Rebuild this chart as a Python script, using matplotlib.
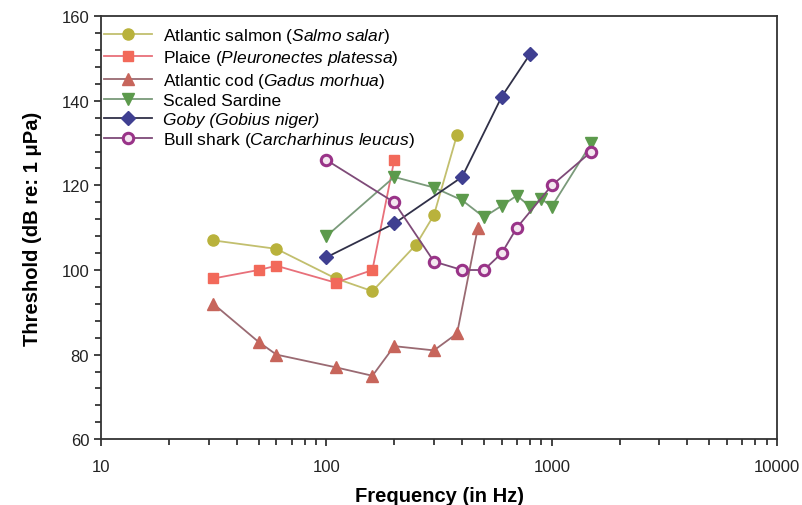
import numpy as np
import matplotlib
matplotlib.use('Agg')
import matplotlib.pyplot as plt
from matplotlib.ticker import FixedLocator, MultipleLocator, NullFormatter, FuncFormatter

plt.rcParams['font.family'] = ['Liberation Sans', 'DejaVu Sans']
plt.rcParams['mathtext.fontset'] = 'custom'
plt.rcParams['mathtext.rm'] = 'Liberation Sans'
plt.rcParams['mathtext.it'] = 'Liberation Sans:italic'

# data
salmon_f = [31.5, 60, 110, 160, 250, 300, 380]
salmon_db = [107, 105, 98, 95, 106, 113, 132]

plaice_f = [31.5, 50, 60, 110, 160, 200]
plaice_db = [98, 100, 101, 97, 100, 126]

cod_f = [31.5, 50, 60, 110, 160, 200, 300, 380, 470]
cod_db = [92, 83, 80, 77, 75, 82, 81, 85, 110]

sardine_f = [100, 200, 300, 400, 500, 600, 700, 800, 900, 1000, 1500]
sardine_db = [108, 122, 119.5, 116.5, 112.5, 115.2, 117.6, 115, 116.8, 115, 130]

goby_f = [100, 200, 400, 600, 800]
goby_db = [103, 111, 122, 141, 151]

shark_f = [100, 200, 300, 400, 500, 600, 700, 1000, 1500]
shark_db = [126, 116, 102, 100, 100, 104, 110, 120, 128]

labels = [r'Atlantic salmon ($\it{Salmo\ salar}$)',
          r'Plaice ($\it{Pleuronectes\ platessa}$)',
          r'Atlantic cod ($\it{Gadus\ morhua}$)',
          'Scaled Sardine',
          'Goby (Gobius niger)',
          r'Bull shark ($\it{Carcharhinus\ leucus}$)']

fig = plt.figure(figsize=(8.02, 5.06), dpi=100)
ax = fig.add_axes([0.126, 0.130, 0.843, 0.836])

ax.plot(salmon_f, salmon_db, color='#c2bf6e', lw=1.3, marker='o', ms=8,
        mfc='#b9b23c', mec='#b9b23c', label=labels[0])
ax.plot(plaice_f, plaice_db, color='#e8707a', lw=1.3, marker='s', ms=7.5,
        mfc='#f2695a', mec='#f2695a', label=labels[1])
ax.plot(cod_f, cod_db, color='#9a6a72', lw=1.3, marker='^', ms=8,
        mfc='#c7655b', mec='#c7655b', label=labels[2])
ax.plot(sardine_f, sardine_db, color='#7a9a7a', lw=1.3, marker='v', ms=8,
        mfc='#5c9a4c', mec='#5c9a4c', label=labels[3])
ax.plot(goby_f, goby_db, color='#303048', lw=1.3, marker='D', ms=7,
        mfc='#3f3f91', mec='#3f3f91', label=labels[4])
ax.plot(shark_f, shark_db, color='#7e4a78', lw=1.3, marker='o', ms=7.5,
        mfc='#f4e6f0', mec='#993388', mew=2.2, label=labels[5])

ax.set_xscale('log')
ax.set_xlim(10, 10000)
ax.set_ylim(60, 160)
ax.xaxis.set_major_locator(FixedLocator([10, 100, 1000, 10000]))
ax.xaxis.set_major_formatter(FuncFormatter(lambda v, p: '%d' % v))
ax.xaxis.set_minor_formatter(NullFormatter())
ax.yaxis.set_major_locator(MultipleLocator(20))
ax.yaxis.set_minor_locator(MultipleLocator(4))

ax.tick_params(axis='both', which='both', direction='out', top=False, right=False,
               labelsize=12, colors='#222222', width=1.2)
ax.tick_params(which='major', length=5)
ax.tick_params(which='minor', length=4)
ax.tick_params(axis='x', pad=9)
for s in ax.spines.values():
    s.set_linewidth(1.3)
    s.set_color('#333333')

ax.set_xlabel('Frequency (in Hz)', fontsize=14.5, fontweight='bold', labelpad=9)
ax.set_ylabel('Threshold (dB re: 1 \u03bcPa)', fontsize=14.5, fontweight='bold', labelpad=14)

leg = ax.legend(loc='upper left', frameon=False, fontsize=12.5, handlelength=2.8,
                handletextpad=0.6, labelspacing=0.2, borderaxespad=0.15,
                bbox_to_anchor=(-0.01, 1.0))
leg.get_texts()[4].set_style('italic')

fig.savefig('out.png', dpi=100)
